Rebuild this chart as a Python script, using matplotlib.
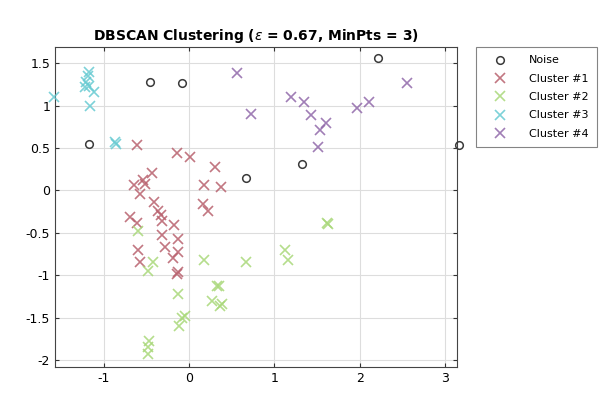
import matplotlib
matplotlib.use("Agg")
import matplotlib.pyplot as plt
from matplotlib.ticker import FuncFormatter

plt.rcParams['font.family'] = ['DejaVu Sans']
plt.rcParams['axes.unicode_minus'] = False

noise_x = [-0.46, -0.08, -1.17, 0.67, 1.32, 2.21, 3.16]
noise_y = [1.28, 1.27, 0.55, 0.15, 0.31, 1.56, 0.53]

c1_x = [-0.61, -0.14, 0.01, 0.30, -0.43, -0.54, -0.52, -0.64, -0.57, 0.18, 0.37,
        0.16, 0.22, -0.41, -0.36, -0.33, -0.31, -0.69, -0.61, -0.18, -0.31, -0.13,
        -0.28, -0.13, -0.19, -0.60, -0.57, -0.13, -0.14]
c1_y = [0.54, 0.44, 0.40, 0.28, 0.21, 0.12, 0.08, 0.06, -0.04, 0.07, 0.04,
        -0.16, -0.24, -0.14, -0.24, -0.29, -0.36, -0.31, -0.38, -0.41, -0.52, -0.57,
        -0.67, -0.73, -0.79, -0.70, -0.84, -0.96, -0.98]

c2_x = [-0.60, -0.42, -0.48, 0.17, 0.67, 1.12, 1.16, 1.61, 1.62, -0.13, 0.33,
        0.35, 0.27, 0.36, 0.39, -0.08, -0.05, -0.12, -0.47, -0.48, -0.48]
c2_y = [-0.48, -0.84, -0.95, -0.82, -0.84, -0.70, -0.82, -0.38, -0.40, -1.22, -1.13,
        -1.12, -1.30, -1.36, -1.34, -1.50, -1.48, -1.60, -1.77, -1.84, -1.93]

c3_x = [-1.58, -1.17, -1.18, -1.20, -1.22, -1.17, -1.11, -1.16, -0.85, -0.87]
c3_y = [1.10, 1.39, 1.35, 1.28, 1.22, 1.23, 1.16, 1.00, 0.55, 0.57]

c4_x = [0.56, 0.73, 1.19, 1.35, 1.43, 1.60, 1.53, 1.51, 1.96, 2.10, 2.55]
c4_y = [1.38, 0.90, 1.10, 1.04, 0.89, 0.79, 0.71, 0.51, 0.97, 1.04, 1.27]

labels = ['Noise', 'Cluster #1', 'Cluster #2', 'Cluster #3', 'Cluster #4']
colors = ['#b85f6c', '#a8d878', '#66cad2', '#9068aa']

fig = plt.figure(figsize=(6.02, 3.96), dpi=100)
ax = fig.add_axes([0.0914, 0.0732, 0.6678, 0.8081])

ax.plot(noise_x, noise_y, 'o', mfc='none', mec='#3a3a3a', mew=1.1, ms=5.5,
        label=labels[0], clip_on=False, zorder=3)
for xs, ys, c, lab in zip([c1_x, c2_x, c3_x, c4_x], [c1_y, c2_y, c3_y, c4_y], colors, labels[1:]):
    ax.plot(xs, ys, 'x', color=c, ms=6.5, mew=1.2, alpha=0.85, label=lab,
            clip_on=False, zorder=3)

ax.set_xlim(-1.567, 3.135)
ax.set_ylim(-2.08, 1.69)
ax.set_xticks([-1, 0, 1, 2, 3])
ax.set_yticks([-2, -1.5, -1, -0.5, 0, 0.5, 1, 1.5])
fmt = FuncFormatter(lambda v, p: '%g' % v)
ax.xaxis.set_major_formatter(fmt)
ax.yaxis.set_major_formatter(fmt)
ax.tick_params(direction='in', top=True, right=True, labelsize=9, length=3, color='#333333')
ax.grid(True, color='#dddddd', linewidth=0.8)
ax.set_axisbelow(True)
for s in ax.spines.values():
    s.set_color('#444444')
    s.set_linewidth(0.8)

ax.set_title(r'DBSCAN Clustering ($\epsilon$ = 0.67, MinPts = 3)', fontsize=10, fontweight='bold', pad=5)

leg = fig.legend(loc='upper left', bbox_to_anchor=(0.791, 0.881), borderaxespad=0,
                 fontsize=8, fancybox=False, edgecolor='#666666', handletextpad=1.2,
                 borderpad=0.75, labelspacing=0.75, handlelength=2.8)
leg.get_frame().set_linewidth(0.8)

fig.savefig('out.png', dpi=100)
